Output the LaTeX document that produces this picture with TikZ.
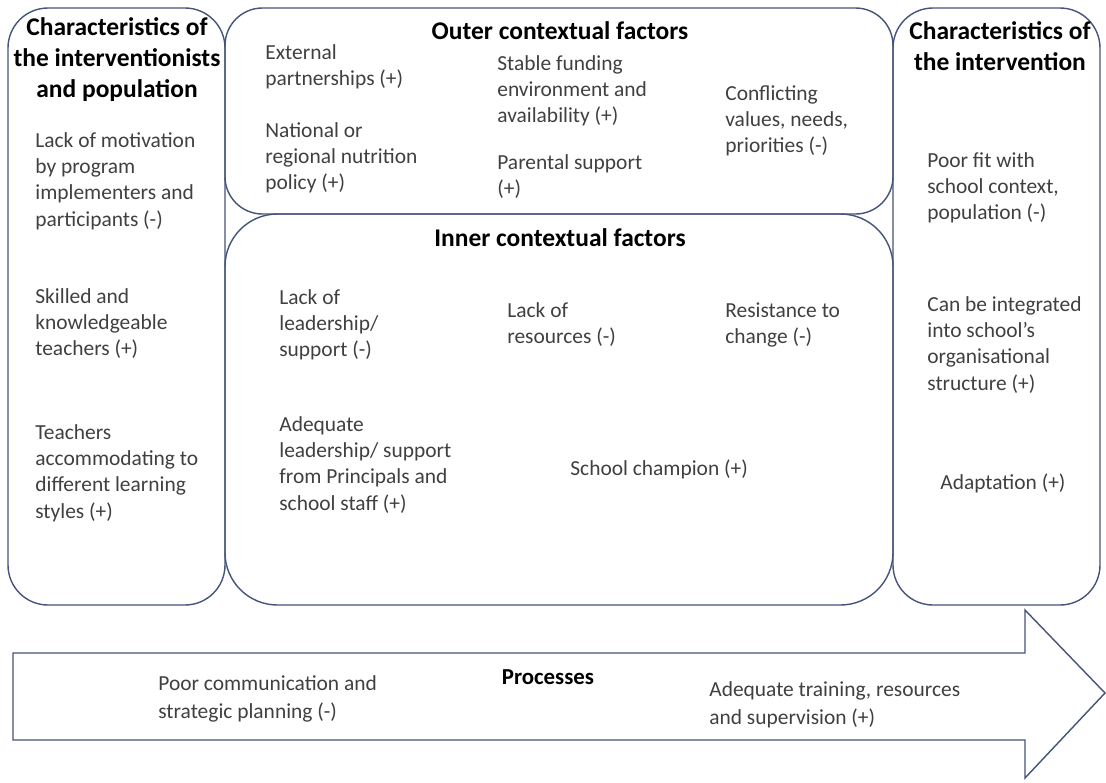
\documentclass[tikz,border=0pt]{standalone}
\usepackage{fontspec}
\setmainfont{Carlito}
\definecolor{framecol}{RGB}{68,84,122}
\definecolor{textcol}{RGB}{64,64,64}

\begin{document}
\begin{tikzpicture}[x=0.02cm,y=-0.02cm,
                    frame/.style={draw=framecol,line width=0.8pt},
                    head text/.style={anchor=north,align=center,inner sep=0pt,
                                      font=\fontsize{14.5}{17.8}\selectfont\bfseries},
                    item text/.style={anchor=north west,align=left,inner sep=0pt,text=textcol,
                                      font=\fontsize{12.2}{15}\selectfont},
                    flow text/.style={item text,font=\fontsize{12.2}{16.2}\selectfont}]
  \useasboundingbox[fill=white] (0,0) rectangle (1106,782);

  % boxes
  \draw[frame,rounded corners=0.8cm] (8,8) rectangle (225,605);
  \draw[frame,rounded corners=0.75cm] (225,8) rectangle (893,214);
  \draw[frame,rounded corners=1.05cm] (225,214) rectangle (893,605);
  \draw[frame,rounded corners=0.8cm] (893,8) rectangle (1100,605);
  \draw[frame] (13,653) -- (1025,653) -- (1025,610) -- (1105,693)
               -- (1025,778) -- (1025,740) -- (13,740) -- cycle;

  % interventionists and population
  \node[head text] (lt) at (117,17) {Characteristics of\\the interventionists\\and population};
  \node[item text] (l1) at (35,132) {Lack of motivation\\by program\\implementers and\\participants (-)};
  \node[item text] (l2) at (35,288) {Skilled and\\knowledgeable\\teachers (+)};
  \node[item text] (l3) at (35,424) {Teachers\\accommodating to\\different learning\\styles (+)};

  % outer context
  \node[head text] (ot) at (560,21) {Outer contextual factors};
  \node[item text] (o1) at (265,44) {External\\partnerships (+)};
  \node[item text] (o2) at (265,122) {National or\\regional nutrition\\policy (+)};
  \node[item text] (o3) at (497,55) {Stable funding\\environment and\\availability (+)};
  \node[item text] (o4) at (497,154) {Parental support\\(+)};
  \node[item text] (o5) at (725,85) {Conflicting\\values, needs,\\priorities (-)};

  % inner context
  \node[head text] (it) at (560,228) {Inner contextual factors};
  \node[item text] (i1) at (279,289) {Lack of\\leadership/\\support (-)};
  \node[item text] (i2) at (507,302) {Lack of\\resources (-)};
  \node[item text] (i3) at (725,302) {Resistance to\\change (-)};
  \node[item text] (i4) at (279,416) {Adequate\\leadership/ support\\from Principals and\\school staff (+)};
  \node[item text] (i5) at (570,459) {School champion (+)};

  % intervention
  \node[head text] (rt) at (1000,21) {Characteristics of\\the intervention};
  \node[item text] (r1) at (927,152) {Poor fit with\\school context,\\population (-)};
  \node[item text] (r2) at (927,296) {Can be integrated\\into school's\\organisational\\structure (+)};
  \node[item text] (r3) at (940,473) {Adaptation (+)};

  % processes
  \node[head text,font=\fontsize{13}{16}\selectfont\bfseries] (pt) at (548,669) {Processes};
  \node[flow text] (p1) at (158,675) {Poor communication and\\strategic planning (-)};
  \node[flow text] (p2) at (709,681) {Adequate training, resources\\and supervision (+)};
\end{tikzpicture}
\end{document}
